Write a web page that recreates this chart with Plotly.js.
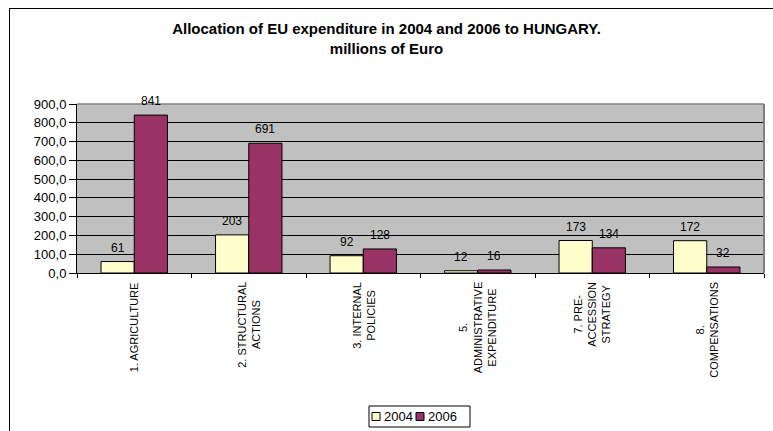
<!DOCTYPE html>
<html>
<head>
<meta charset="utf-8">
<script src="https://cdn.plot.ly/plotly-3.0.1.min.js"></script>
<style>
  html, body { margin: 0; padding: 0; background: #fff; }
  #wrap { position: relative; width: 773px; height: 431px; overflow: hidden; }
  #chart { width: 773px; height: 431px; }
  #frame { position: absolute; left: 9px; top: 8px; width: 900px; height: 600px;
           border-left: 1.5px solid #000; border-top: 1.5px solid #000; pointer-events: none; }
</style>
</head>
<body>
<div id="wrap">
  <div id="chart"></div>
  <div id="frame"></div>
</div>
<script>
// ---- data ----
const categories = [
  "1. AGRICULTURE",
  "2. STRUCTURAL<br>ACTIONS",
  "3. INTERNAL<br>POLICIES",
  "5.<br>ADMINISTRATIVE<br>EXPENDITURE",
  "7. PRE-<br>ACCESSION<br>STRATEGY",
  "8.<br>COMPENSATIONS"
];
const values2004 = [61, 203, 92, 12, 173, 172];
const values2006 = [841, 691, 128, 16, 134, 32];
const seriesNames = ["2004", "2006"];
const yTicks = [0, 100, 200, 300, 400, 500, 600, 700, 800, 900];

// ---- styling ----
const FONT = "Arial, 'Liberation Sans', sans-serif";
const colors = ["#FFFFCC", "#993366"];

const W = 773, H = 431;
const margin = { l: 77, r: 9, t: 104, b: 158, autoexpand: false };
const plotW = W - margin.l - margin.r;
const plotH = H - margin.t - margin.b;
const px2x = (px) => (px - margin.l) / plotW;
const py2y = (py) => (H - margin.b - py) / plotH;

const traces = [values2004, values2006].map((vals, i) => ({
  type: "bar",
  name: seriesNames[i],
  x: categories,
  y: vals,
  marker: { color: colors[i], line: { color: "#000", width: 1 } },
  hoverinfo: "skip",
  showlegend: false
}));

const catW = plotW / categories.length;
const bargap = 0.42;
const barW = catW * (1 - bargap) / 2;

const annotations = [];
// value labels
[values2004, values2006].forEach((vals, i) => {
  vals.forEach((v, j) => {
    annotations.push({
      x: categories[j], y: v, xref: "x", yref: "y",
      xshift: (i === 0 ? -1 : 1) * barW / 2,
      yshift: 14, yanchor: "middle", xanchor: "center",
      text: String(v), showarrow: false,
      font: { family: FONT, size: 12, color: "#000" }
    });
  });
});
// category labels (rotated, centred lines)
categories.forEach((c) => {
  annotations.push({
    x: c, y: 0, xref: "x", yref: "paper",
    yshift: -7, yanchor: "top", xanchor: "center",
    textangle: -90, align: "center",
    text: c, showarrow: false,
    font: { family: FONT, size: 11, color: "#000" }
  });
});

// ---- legend (drawn as box + swatches + labels) ----
const legBox = { x0: 369, x1: 470, y0: 406, y1: 427 };
const legItems = [
  { sw: 372, tx: 382 },
  { sw: 416, tx: 426 }
];
const shapes = [
  { type: "line", xref: "paper", yref: "paper", x0: 0, x1: 1, y0: 1, y1: 1,
    line: { color: "#808080", width: 1.5 } },
  { type: "line", xref: "paper", yref: "paper", x0: 1, x1: 1, y0: 0, y1: 1,
    line: { color: "#808080", width: 2 } },
  { type: "rect", xref: "paper", yref: "paper",
    x0: px2x(legBox.x0), x1: px2x(legBox.x1), y0: py2y(legBox.y0), y1: py2y(legBox.y1),
    line: { color: "#000", width: 1 }, fillcolor: "#fff" }
];
const legMid = (legBox.y0 + legBox.y1) / 2;
seriesNames.forEach((name, i) => {
  shapes.push({
    type: "rect", xref: "paper", yref: "paper",
    x0: px2x(legItems[i].sw), x1: px2x(legItems[i].sw + 8),
    y0: py2y(legMid - 4), y1: py2y(legMid + 4),
    line: { color: "#000", width: 1 }, fillcolor: colors[i]
  });
  annotations.push({
    x: px2x(legItems[i].tx), y: py2y(legMid), xref: "paper", yref: "paper",
    xanchor: "left", yanchor: "middle", text: name, showarrow: false,
    font: { family: FONT, size: 13, color: "#000" }
  });
});

const layout = {
  width: W, height: H,
  margin: margin,
  paper_bgcolor: "#fff",
  plot_bgcolor: "#C0C0C0",
  separators: ",.",
  font: { family: FONT, color: "#000" },
  barmode: "group",
  bargap: bargap,
  bargroupgap: 0,
  title: {
    text: "<b>Allocation of EU expenditure in 2004 and 2006 to HUNGARY.<br>millions of Euro</b>",
    x: 0.5, xref: "container", xanchor: "center",
    y: 1 - 34 / H, yref: "container", yanchor: "top",
    font: { family: FONT, size: 15, color: "#000" }
  },
  xaxis: {
    type: "category",
    showline: true, linecolor: "#000", linewidth: 1,
    ticks: "outside", tickson: "boundaries", ticklen: 4, tickcolor: "#000",
    showticklabels: false, showgrid: false, zeroline: false,
    fixedrange: true
  },
  yaxis: {
    range: [0, 900],
    tickvals: yTicks,
    tickformat: ".1f",
    showline: true, linecolor: "#000", linewidth: 1,
    ticks: "outside", ticklen: 7, tickcolor: "#000",
    showgrid: true, gridcolor: "#000", gridwidth: 1,
    zeroline: false,
    tickfont: { family: FONT, size: 13, color: "#000" },
    fixedrange: true
  },
  shapes: shapes,
  showlegend: false,
  annotations: annotations
};

Plotly.newPlot("chart", traces, layout, { displayModeBar: false, staticPlot: true });
</script>
</body>
</html>
